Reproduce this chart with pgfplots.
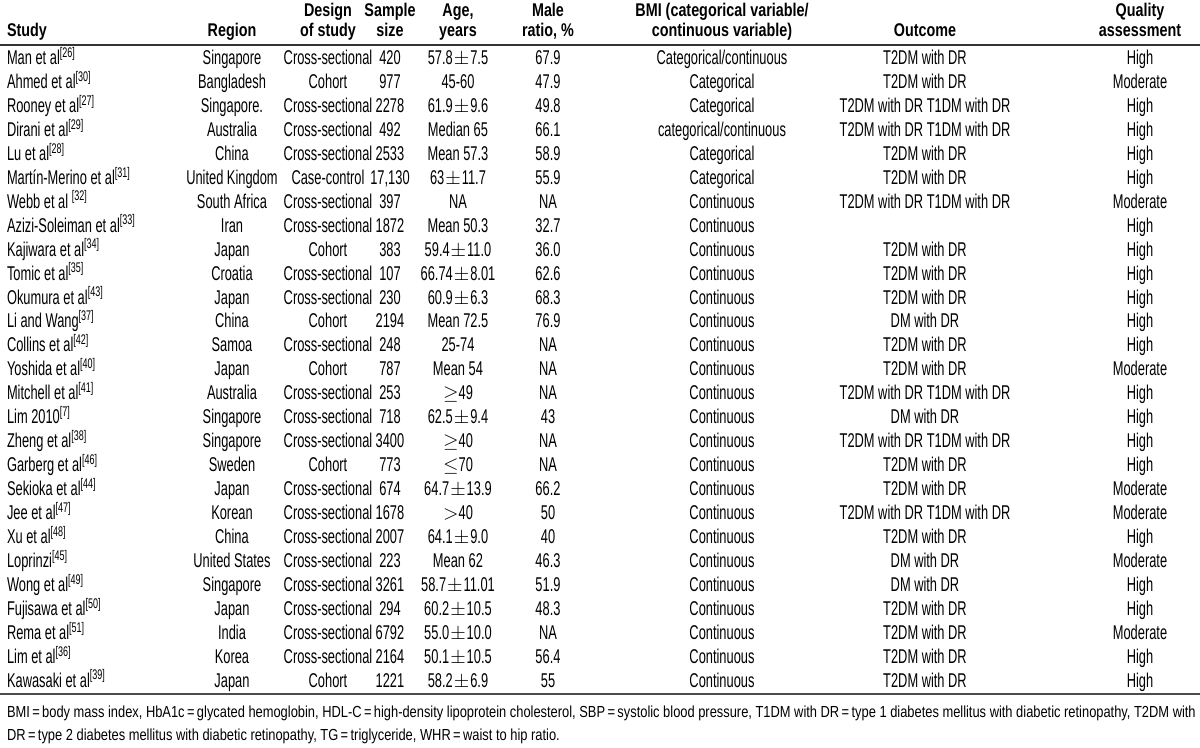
\documentclass[border=0pt]{standalone}
\usepackage{pgfplots}
\pgfplotsset{compat=1.18}
\usepackage{fontspec}
\setmainfont{Liberation Sans}[FakeStretch=0.645]
\newfontfamily\hdfont{Liberation Sans}[FakeStretch=0.78]
\newfontfamily\fnfont{Liberation Sans}[FakeStretch=0.805]
\newcommand{\sref}[1]{\textsuperscript{[#1]}}
\newcommand{\pmm}{\kern0.5pt$\pm$\kern0.5pt}
\newcommand{\eq}{\kern1.2pt=\kern1.2pt}
% row y-baseline (in px units): 64.5 + (i-1)*23.95
\newcommand{\rowA}[5]{%
  \node[anchor=base west] at (axis cs:0,{64.5+(#1-1)*23.95}) {#2};
  \node[anchor=base] at (axis cs:232,{64.5+(#1-1)*23.95}) {#3};
  \node[anchor=base] at (axis cs:328,{64.5+(#1-1)*23.95}) {#4};
  \node[anchor=base] at (axis cs:390,{64.5+(#1-1)*23.95}) {#5};
}
\newcommand{\rowB}[6]{%
  \node[anchor=base] at (axis cs:458,{64.5+(#1-1)*23.95}) {#2};
  \node[anchor=base] at (axis cs:548,{64.5+(#1-1)*23.95}) {#3};
  \node[anchor=base] at (axis cs:722,{64.5+(#1-1)*23.95}) {#4};
  \node[anchor=base] at (axis cs:925,{64.5+(#1-1)*23.95}) {#5};
  \node[anchor=base] at (axis cs:1140,{64.5+(#1-1)*23.95}) {#6};
}
\begin{document}
\begin{tikzpicture}
\begin{axis}[hide axis, scale only axis, width=600bp, height=374bp,
  xmin=0, xmax=1200, ymin=0, ymax=748, y dir=reverse, clip=false,
  every node/.append style={font=\fontsize{9bp}{11bp}\selectfont, inner sep=0pt, text=black!85}]
% header
\begin{scope}[every node/.append style={font=\fontsize{9.2bp}{11bp}\selectfont\hdfont\bfseries}]
\node[anchor=base] at (axis cs:328,16.5) {Design};
\node[anchor=base] at (axis cs:390,16.5) {Sample};
\node[anchor=base] at (axis cs:458,16.5) {Age,};
\node[anchor=base] at (axis cs:548,16.5) {Male};
\node[anchor=base] at (axis cs:722,16.5) {BMI (categorical variable/};
\node[anchor=base] at (axis cs:1140,16.5) {Quality};
\node[anchor=base west] at (axis cs:0,37) {Study};
\node[anchor=base] at (axis cs:232,37) {Region};
\node[anchor=base] at (axis cs:328,37) {of study};
\node[anchor=base] at (axis cs:390,37) {size};
\node[anchor=base] at (axis cs:458,37) {years};
\node[anchor=base] at (axis cs:548,37) {ratio, \%};
\node[anchor=base] at (axis cs:722,37) {continuous variable)};
\node[anchor=base] at (axis cs:925,37) {Outcome};
\node[anchor=base] at (axis cs:1140,37) {assessment};
\end{scope}
\draw[line width=0.8bp, black!80] (axis cs:0,45) -- (axis cs:1200,45);
\draw[line width=1.1bp, black!70] (axis cs:0,694) -- (axis cs:1200,694);
% data
\rowA{1}{Man et al\sref{26}}{Singapore}{Cross-sectional}{420}
\rowB{1}{57.8\pmm7.5}{67.9}{Categorical/continuous}{T2DM with DR}{High}
\rowA{2}{Ahmed et al\sref{30}}{Bangladesh}{Cohort}{977}
\rowB{2}{45-60}{47.9}{Categorical}{T2DM with DR}{Moderate}
\rowA{3}{Rooney et al\sref{27}}{Singapore.}{Cross-sectional}{2278}
\rowB{3}{61.9\pmm9.6}{49.8}{Categorical}{T2DM with DR T1DM with DR}{High}
\rowA{4}{Dirani et al\sref{29}}{Australia}{Cross-sectional}{492}
\rowB{4}{Median 65}{66.1}{categorical/continuous}{T2DM with DR T1DM with DR}{High}
\rowA{5}{Lu et al\sref{28}}{China}{Cross-sectional}{2533}
\rowB{5}{Mean 57.3}{58.9}{Categorical}{T2DM with DR}{High}
\rowA{6}{Martín-Merino et al\sref{31}}{United Kingdom}{Case-control}{17,130}
\rowB{6}{63\pmm11.7}{55.9}{Categorical}{T2DM with DR}{High}
\rowA{7}{Webb et al \sref{32}}{South Africa}{Cross-sectional}{397}
\rowB{7}{NA}{NA}{Continuous}{T2DM with DR T1DM with DR}{Moderate}
\rowA{8}{Azizi-Soleiman et al\sref{33}}{Iran}{Cross-sectional}{1872}
\rowB{8}{Mean 50.3}{32.7}{Continuous}{}{High}
\rowA{9}{Kajiwara et al\sref{34}}{Japan}{Cohort}{383}
\rowB{9}{59.4\pmm11.0}{36.0}{Continuous}{T2DM with DR}{High}
\rowA{10}{Tomic et al\sref{35}}{Croatia}{Cross-sectional}{107}
\rowB{10}{66.74\pmm8.01}{62.6}{Continuous}{T2DM with DR}{High}
\rowA{11}{Okumura et al\sref{43}}{Japan}{Cross-sectional}{230}
\rowB{11}{60.9\pmm6.3}{68.3}{Continuous}{T2DM with DR}{High}
\rowA{12}{Li and Wang\sref{37}}{China}{Cohort}{2194}
\rowB{12}{Mean 72.5}{76.9}{Continuous}{DM with DR}{High}
\rowA{13}{Collins et al\sref{42}}{Samoa}{Cross-sectional}{248}
\rowB{13}{25-74}{NA}{Continuous}{T2DM with DR}{High}
\rowA{14}{Yoshida et al\sref{40}}{Japan}{Cohort}{787}
\rowB{14}{Mean 54}{NA}{Continuous}{T2DM with DR}{Moderate}
\rowA{15}{Mitchell et al\sref{41}}{Australia}{Cross-sectional}{253}
\rowB{15}{$\geq$49}{NA}{Continuous}{T2DM with DR T1DM with DR}{High}
\rowA{16}{Lim 2010\sref{7}}{Singapore}{Cross-sectional}{718}
\rowB{16}{62.5\pmm9.4}{43}{Continuous}{DM with DR}{High}
\rowA{17}{Zheng et al\sref{38}}{Singapore}{Cross-sectional}{3400}
\rowB{17}{$\geq$40}{NA}{Continuous}{T2DM with DR T1DM with DR}{High}
\rowA{18}{Garberg et al\sref{46}}{Sweden}{Cohort}{773}
\rowB{18}{$\leq$70}{NA}{Continuous}{T2DM with DR}{High}
\rowA{19}{Sekioka et al\sref{44}}{Japan}{Cross-sectional}{674}
\rowB{19}{64.7\pmm13.9}{66.2}{Continuous}{T2DM with DR}{Moderate}
\rowA{20}{Jee et al\sref{47}}{Korean}{Cross-sectional}{1678}
\rowB{20}{$>$40}{50}{Continuous}{T2DM with DR T1DM with DR}{Moderate}
\rowA{21}{Xu et al\sref{48}}{China}{Cross-sectional}{2007}
\rowB{21}{64.1\pmm9.0}{40}{Continuous}{T2DM with DR}{High}
\rowA{22}{Loprinzi\sref{45}}{United States}{Cross-sectional}{223}
\rowB{22}{Mean 62}{46.3}{Continuous}{DM with DR}{Moderate}
\rowA{23}{Wong et al\sref{49}}{Singapore}{Cross-sectional}{3261}
\rowB{23}{58.7\pmm11.01}{51.9}{Continuous}{DM with DR}{High}
\rowA{24}{Fujisawa et al\sref{50}}{Japan}{Cross-sectional}{294}
\rowB{24}{60.2\pmm10.5}{48.3}{Continuous}{T2DM with DR}{High}
\rowA{25}{Rema et al\sref{51}}{India}{Cross-sectional}{6792}
\rowB{25}{55.0\pmm10.0}{NA}{Continuous}{T2DM with DR}{Moderate}
\rowA{26}{Lim et al\sref{36}}{Korea}{Cross-sectional}{2164}
\rowB{26}{50.1\pmm10.5}{56.4}{Continuous}{T2DM with DR}{High}
\rowA{27}{Kawasaki et al\sref{39}}{Japan}{Cohort}{1221}
\rowB{27}{58.2\pmm6.9}{55}{Continuous}{T2DM with DR}{High}
% footnote
\node[anchor=base west, font=\fontsize{8bp}{11.5bp}\selectfont\fnfont] at (axis cs:0,717)
 {BMI\eq body mass index, HbA1c\eq glycated hemoglobin, HDL-C\eq high-density lipoprotein cholesterol, SBP\eq systolic blood pressure, T1DM with DR\eq type 1 diabetes mellitus with diabetic retinopathy, T2DM with};
\node[anchor=base west, font=\fontsize{8bp}{11.5bp}\selectfont\fnfont] at (axis cs:0,740)
 {DR\eq type 2 diabetes mellitus with diabetic retinopathy, TG\eq triglyceride, WHR\eq waist to hip ratio.};
\end{axis}
\pgfresetboundingbox
\path (current axis.south west) rectangle (current axis.north east);
\end{tikzpicture}
\end{document}
